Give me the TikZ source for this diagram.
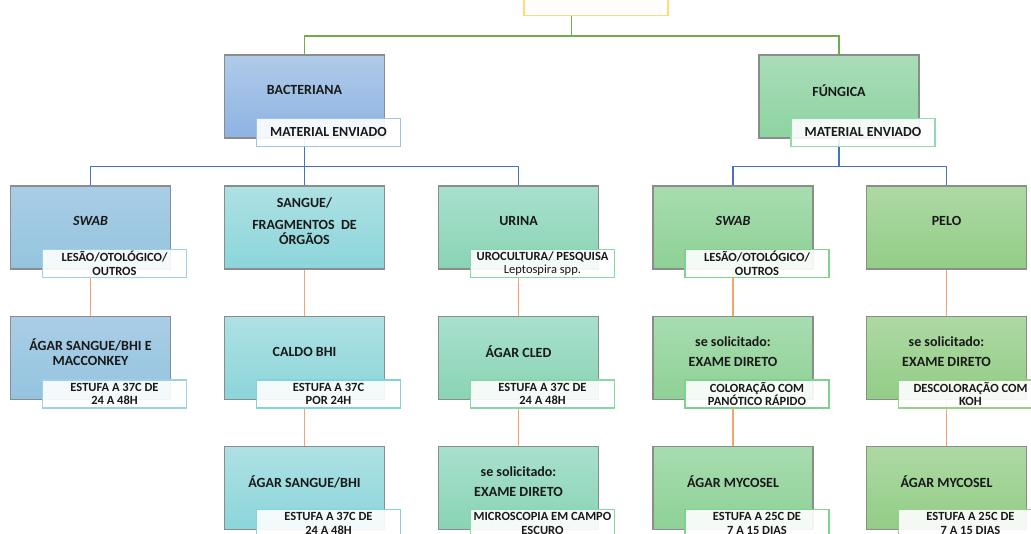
\documentclass[tikz,border=0pt]{standalone}
\usepackage{fontspec}
\setmainfont{Carlito}
\usetikzlibrary{positioning}
\usetikzlibrary{backgrounds}
\definecolor{bacTop}{HTML}{B0CBE9}
\definecolor{bacBot}{HTML}{8DB3E2}
\definecolor{funTop}{HTML}{A9DDB8}
\definecolor{funBot}{HTML}{8ED3A1}
\definecolor{colATop}{HTML}{AACDE7}
\definecolor{colABot}{HTML}{94C4DE}
\definecolor{colBTop}{HTML}{AEE1E4}
\definecolor{colBBot}{HTML}{8BD5DA}
\definecolor{colCTop}{HTML}{A8E0CE}
\definecolor{colCBot}{HTML}{89D4B4}
\definecolor{colDTop}{HTML}{A8DCB0}
\definecolor{colDBot}{HTML}{8ED196}
\definecolor{colETop}{HTML}{ADD9A3}
\definecolor{colEBot}{HTML}{92CD86}
\definecolor{tagBac}{HTML}{9DC3EA}
\definecolor{tagFun}{HTML}{8FDBA9}
\definecolor{tagA}{HTML}{9BD0E6}
\definecolor{tagB}{HTML}{80D5D9}
\definecolor{tagC}{HTML}{85D9A5}
\definecolor{tagD}{HTML}{7DD38C}
\definecolor{tagE}{HTML}{98D08B}
\definecolor{rootYellow}{HTML}{FFDA75}
\definecolor{lineGreen}{HTML}{70AD47}
\definecolor{lineBlue}{HTML}{4472C4}
\definecolor{lineOrange}{HTML}{F5A46E}
\tikzset{
cardbox/.style 2 args={ % gradient box of each step
draw=black!45,
line width=1.1,
top color=#1,
bottom color=#2,
minimum width=160,
minimum height=83,
inner sep=0},
cardtext/.style={ % bold text inside the box
font=\bfseries\fontsize{14}{15}\selectfont,
text=black!90,
align=center},
tagbox/.style={ % white label that sits on the box corner
draw=#1,
line width=1.1,
fill=white,
fill opacity=0.9,
text opacity=1,
text=black!90,
minimum width=144,
minimum height=28,
inner sep=0,
font=\bfseries\fontsize{12.5}{13.5}\selectfont,
align=center},
greenline/.style={draw=lineGreen, line width=1.4},
blueline/.style={draw=lineBlue, line width=1.4},
orangeline/.style={draw=lineOrange, line width=1.4}}

\begin{document}
\begin{tikzpicture}[x=1pt, y=-1pt]
\useasboundingbox (0,0) rectangle (1031,534);
\clip (0,0) rectangle (1031,534);
% top of the chart
\node[draw=rootYellow, line width=1.3, minimum width=144, minimum height=40, anchor=south] (root) at (596,16) {};
% first level
\node[cardbox={bacTop}{bacBot}] (bac) at (304.5,96.5) {};
\node[cardbox={funTop}{funBot}] (fun) at (839,96.5) {};
\node[cardtext] (bact) at ([yshift=-36]bac.north) {BACTERIANA};
\node[cardtext] (funt) at ([yshift=-36]fun.north) {FÚNGICA};
\node[tagbox=tagBac, font=\bfseries\fontsize{13.9}{15}\selectfont] (bacg) at ([xshift=24,yshift=-78]bac.north) {MATERIAL ENVIADO};
\node[tagbox=tagFun, font=\bfseries\fontsize{13.9}{15}\selectfont] (fung) at ([xshift=24,yshift=-78]fun.north) {MATERIAL ENVIADO};
% material
\node[cardbox={colATop}{colABot}] (swabb) at (90.5,227.5) {};
\node[cardbox={colBTop}{colBBot}] (sang) at (304.5,227.5) {};
\node[cardbox={colCTop}{colCBot}] (urin) at (518.5,227.5) {};
\node[cardbox={colDTop}{colDBot}] (swabf) at (733,227.5) {};
\node[cardbox={colETop}{colEBot}] (pelo) at (946.5,227.5) {};
\node[cardtext] (swabbt) at ([yshift=-36]swabb.north) {\textit{SWAB}};
\node[cardtext] (sangt) at ([yshift=-36]sang.north) {SANGUE/\\[7pt]FRAGMENTOS \ DE\\ÓRGÃOS};
\node[cardtext] (urint) at ([yshift=-36]urin.north) {URINA};
\node[cardtext] (swabft) at ([yshift=-36]swabf.north) {\textit{SWAB}};
\node[cardtext] (pelot) at ([yshift=-36]pelo.north) {PELO};
\node[tagbox=tagA] (swabbg) at ([xshift=24,yshift=-78]swabb.north) {LESÃO/OTOLÓGICO/\\OUTROS};
\node[tagbox=tagC] (uring) at ([xshift=24,yshift=-78]urin.north) {UROCULTURA/ PESQUISA\\{\mdseries Leptospira spp.}};
\node[tagbox=tagD] (swabfg) at ([xshift=24,yshift=-78]swabf.north) {LESÃO/OTOLÓGICO/\\OUTROS};
% second step
\node[cardbox={colATop}{colABot}, below=46.5pt of swabb] (agmac) {};
\node[cardbox={colBTop}{colBBot}, below=46.5pt of sang] (cald) {};
\node[cardbox={colCTop}{colCBot}, below=46.5pt of urin] (cled) {};
\node[cardbox={colDTop}{colDBot}, below=46.5pt of swabf] (exaf) {};
\node[cardbox={colETop}{colEBot}, below=46.5pt of pelo] (exap) {};
\node[cardtext] (agmact) at ([yshift=-36]agmac.north) {ÁGAR SANGUE/BHI E\\MACCONKEY};
\node[cardtext] (caldt) at ([yshift=-36]cald.north) {CALDO BHI};
\node[cardtext] (cledt) at ([yshift=-36]cled.north) {ÁGAR CLED};
\node[cardtext] (exaft) at ([yshift=-36]exaf.north) {se solicitado:\\[5pt]EXAME DIRETO};
\node[cardtext] (exapt) at ([yshift=-36]exap.north) {se solicitado:\\[5pt]EXAME DIRETO};
\node[tagbox=tagA] (agmacg) at ([xshift=24,yshift=-78]agmac.north) {ESTUFA A 37C DE\\24 A 48H};
\node[tagbox=tagB] (caldg) at ([xshift=24,yshift=-78]cald.north) {ESTUFA A 37C\\POR 24H};
\node[tagbox=tagC] (cledg) at ([xshift=24,yshift=-78]cled.north) {ESTUFA A 37C DE\\24 A 48H};
\node[tagbox=tagD] (exafg) at ([xshift=24,yshift=-78]exaf.north) {COLORAÇÃO COM\\PANÓTICO RÁPIDO};
\node[tagbox=tagE] (exapg) at ([xshift=24,yshift=-78]exap.north) {DESCOLORAÇÃO COM\\KOH};
% third step
\node[cardbox={colBTop}{colBBot}, below=45.5pt of cald] (agsb) {};
\node[cardbox={colCTop}{colCBot}, below=45.5pt of cled] (exau) {};
\node[cardbox={colDTop}{colDBot}, below=45.5pt of exaf] (mycf) {};
\node[cardbox={colETop}{colEBot}, below=45.5pt of exap] (mycp) {};
\node[cardtext] (agsbt) at ([yshift=-36]agsb.north) {ÁGAR SANGUE/BHI};
\node[cardtext] (exaut) at ([yshift=-36]exau.north) {se solicitado:\\[5pt]EXAME DIRETO};
\node[cardtext] (mycft) at ([yshift=-36]mycf.north) {ÁGAR MYCOSEL};
\node[cardtext] (mycpt) at ([yshift=-36]mycp.north) {ÁGAR MYCOSEL};
\node[tagbox=tagB] (agsbg) at ([xshift=24,yshift=-78]agsb.north) {ESTUFA A 37C DE\\24 A 48H};
\node[tagbox=tagC] (exaug) at ([xshift=24,yshift=-78]exau.north) {MICROSCOPIA EM CAMPO\\ESCURO};
\node[tagbox=tagD] (mycfg) at ([xshift=24,yshift=-78]mycf.north) {ESTUFA A 25C DE\\7 A 15 DIAS};
\node[tagbox=tagE] (mycpg) at ([xshift=24,yshift=-78]mycp.north) {ESTUFA A 25C DE\\7 A 15 DIAS};
% connectors
\begin{scope}[on background layer]
\draw[greenline] ([xshift=48]root.south west) -- ++(0,20) -| (bac.north);
\draw[greenline] ([xshift=48]root.south west) -- ++(0,20) -| (fun.north);
\draw[blueline] (bac.south) -- ++(0,28) -| (swabb.north);
\draw[blueline] (bac.south) -- ++(0,28) -| (sang.north);
\draw[blueline] (bac.south) -- ++(0,28) -| (urin.north);
\draw[blueline] (fun.south) -- ++(0,28) -| (swabf.north);
\draw[blueline] (fun.south) -- ++(0,28) -| (pelo.north);
\draw[orangeline] (swabb) -- (agmac);
\draw[orangeline] (sang) -- (cald);
\draw[orangeline] (urin) -- (cled);
\draw[orangeline] (swabf) -- (exaf);
\draw[orangeline] (pelo) -- (exap);
\draw[orangeline] (cald) -- (agsb);
\draw[orangeline] (cled) -- (exau);
\draw[orangeline] (exaf) -- (mycf);
\draw[orangeline] (exap) -- (mycp);
\end{scope}
\end{tikzpicture}
\end{document}
